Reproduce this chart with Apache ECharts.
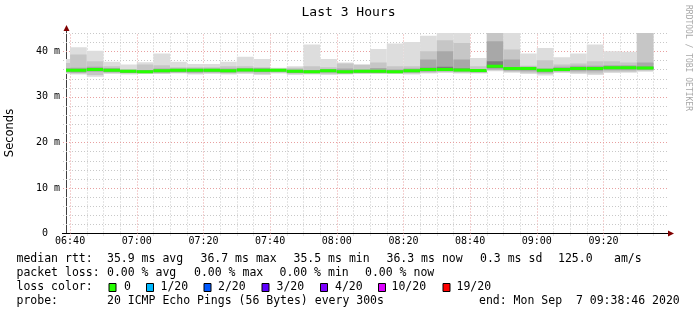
<!DOCTYPE html>
<html><head><meta charset="utf-8">
<script src="https://cdn.jsdelivr.net/npm/echarts@6/dist/echarts.min.js"></script>
<style>html,body{margin:0;padding:0;background:#fff}#c{width:697px;height:315px}</style>
</head><body><div id="c"></div>
<script>
// ---- data (5-minute intervals, each bar ends at barEnd) ----
const startTime = "06:38:46";
const endTime = "09:38:46";
const barEnd = ["06:40","06:45","06:50","06:55","07:00","07:05","07:10","07:15","07:20","07:25","07:30","07:35",
  "07:40","07:45","07:50","07:55","08:00","08:05","08:10","08:15","08:20","08:25","08:30","08:35",
  "08:40","08:45","08:50","08:55","09:00","09:05","09:10","09:15","09:20","09:25","09:30","09:35"];
const pingMin = [35.0,34.9,34.4,35.0,34.9,35.0,35.0,35.1,34.9,35.0,34.9,35.0,34.8,35.1,34.8,34.9,34.8,34.9,35.0,35.0,35.0,34.9,35.1,35.3,35.1,35.1,35.6,35.3,35.0,34.7,35.3,35.0,34.8,35.2,35.3,35.5];
const band2Lo = [35.2,35.1,34.8,35.2,35.1,35.1,35.1,35.2,35.1,35.2,35.1,35.2,35.0,35.3,35.0,35.0,35.0,35.0,35.1,35.1,35.1,35.1,35.3,35.4,35.3,35.2,35.8,35.5,35.3,35.0,35.4,35.3,35.1,35.5,35.5,35.7];
const band3Lo = [35.4,35.3,35.5,35.4,35.2,35.2,35.3,35.4,35.3,35.4,35.3,35.5,35.4,35.5,35.2,35.2,35.3,35.1,35.2,35.2,35.2,35.3,35.5,35.6,35.5,35.4,36.0,35.7,35.6,35.3,35.6,35.6,35.6,35.8,35.8,35.9];
const band4Lo = [35.6,35.6,35.8,35.6,35.4,35.3,35.5,35.6,35.6,35.6,35.5,35.7,35.6,35.7,35.4,35.3,35.5,35.3,35.4,35.4,35.3,35.5,35.8,35.8,35.7,35.6,36.3,36.0,36.0,35.6,35.8,36.0,36.0,36.2,36.2,36.1];
const medianRtt = [35.8,35.8,36.0,35.8,35.6,35.5,35.7,35.8,35.8,35.8,35.7,35.9,35.8,35.85,35.6,35.5,35.7,35.5,35.6,35.6,35.5,35.7,36.0,36.0,35.9,35.75,36.7,36.2,36.2,35.8,36.0,36.2,36.2,36.4,36.4,36.3];
const band4Hi = [36.0,36.0,36.2,36.0,35.8,35.7,35.9,36.0,36.0,36.0,35.9,36.1,36.0,36.0,35.8,35.7,35.9,35.7,35.8,35.8,35.7,35.9,36.4,36.6,36.2,35.9,37.8,36.5,36.4,36.0,36.3,36.4,36.4,36.6,36.6,36.6];
const band3Hi = [36.3,36.4,36.6,36.3,35.9,35.9,36.2,36.2,36.2,36.2,36.2,36.3,36.3,36.1,36.0,35.9,36.1,36.2,36.0,36.3,36.0,36.2,38.2,40.0,38.2,36.1,42.2,38.2,36.6,36.2,36.6,36.8,36.8,36.9,36.9,37.5];
const band2Hi = [37.4,39.3,37.8,36.7,36.1,37.1,36.9,36.5,36.5,36.5,36.7,36.7,36.5,36.2,36.4,36.7,36.5,37.3,37.1,37.5,36.7,36.7,40.0,42.4,41.8,36.7,45.0,40.4,36.8,38.0,37.1,37.3,37.8,37.8,37.5,45.0];
const pingMax = [38.3,40.9,40.1,37.7,37.1,37.6,39.5,37.7,37.2,37.2,37.7,38.8,38.3,36.4,36.7,41.5,38.3,37.5,36.8,40.5,41.7,42.0,43.4,45.0,45.0,38.5,45.0,45.0,39.5,40.7,38.7,39.5,41.5,40.0,39.9,45.0];
const stepMinutes = 5;
const xTickLabels = ["06:40","07:00","07:20","07:40","08:00","08:20","08:40","09:00","09:20"];
const yTickValues = [0,10,20,30,40];
const yTickLabels = ["0  ","10 m","20 m","30 m","40 m"];
const yMax = 44;
const statsRtt = ["35.9 ms avg","36.7 ms max","35.5 ms min","36.3 ms now","0.3 ms sd","125.0","am/s"];
const statsLoss = ["0.00 % avg","0.00 % max","0.00 % min","0.00 % now"];
const lossLabels = ["0","1/20","2/20","3/20","4/20","10/20","19/20"];
const lossColors = ["#26ff00","#00b8ff","#0059ff","#5e00ff","#7e00ff","#dd00ff","#ff0000"];
const probeText = "20 ICMP Echo Pings (56 Bytes) every 300s";
const endText = "end: Mon Sep  7 09:38:46 2020";

// ---- helpers ----
function toMin(s){const p=s.split(':').map(Number);return p[0]*60+p[1]+(p[2]||0)/60;}
const xMin = toMin(startTime), xMax = toMin(endTime);
const xTickValues = xTickLabels.map(toMin);
const smokeData = barEnd.map((e,i)=>[toMin(e)-stepMinutes,toMin(e),pingMin[i],band2Lo[i],band3Lo[i],band4Lo[i],medianRtt[i],band4Hi[i],band3Hi[i],band2Hi[i],pingMax[i]]);

const MONO = "'DejaVu Sans Mono', monospace";
const chart = echarts.init(document.getElementById('c'), null, {renderer:'canvas'});

function gridRender(params, api){
  const ch = [];
  const y0 = api.coord([xMin,0])[1], y1 = api.coord([xMin,yMax])[1];
  const xl = api.coord([xMin,0])[0], xr = api.coord([xMax,0])[0];
  const majorX = new Set(xTickValues);
  for (let t = xTickValues[0]; t < xMax; t += stepMinutes){
    const x = Math.round(api.coord([t,0])[0]) + 0.5;
    const major = majorX.has(t);
    ch.push({type:'line', shape:{x1:x,y1:y0+(major?3:2),x2:x,y2:y1}, style:{stroke: major?'#e8a0a0':'#c8c8c8', lineWidth:1, lineDash:[1,2]}});
  }
  for (let v = 2; v <= yMax; v += 2){
    const y = Math.round(api.coord([xMin,v])[1]) + 0.5;
    const major = v % 10 === 0;
    ch.push({type:'line', shape:{x1:xl-3,y1:y,x2:xr+3,y2:y}, style:{stroke: major?'#e8a0a0':'#c8c8c8', lineWidth:1, lineDash:[1,2]}});
  }
  return {type:'group', children:ch};
}

function smokeRender(params, api){
  const t0 = api.value(0), t1 = api.value(1);
  const bands = [[2,10,'#dddddd'],[3,9,'#c6c6c6'],[4,8,'#a8a8a8'],[5,7,'#7c7c7c']];
  const ch = [];
  for (const b of bands){
    const p0 = api.coord([t0, api.value(b[1])]);
    const p1 = api.coord([t1, api.value(b[0])]);
    ch.push({type:'rect', shape:{x:p0[0], y:p0[1], width:p1[0]-p0[0], height:p1[1]-p0[1]}, style:{fill:b[2]}});
  }
  const m0 = api.coord([t0, api.value(6)]), m1 = api.coord([t1, api.value(6)]);
  ch.push({type:'rect', shape:{x:m0[0], y:m0[1]-1.5, width:m1[0]-m0[0], height:3}, style:{fill:lossColors[0]}});
  return {type:'group', children:ch};
}

const graphics = [];
graphics.push({type:'text', left:'center', top:6, style:{text:'Last 3 Hours', font:"13px "+MONO, fill:'#000'}});
graphics.push({type:'text', x:10, y:133, rotation:Math.PI/2, style:{text:'Seconds', font:"11.5px 'DejaVu Sans', sans-serif", fill:'#000', align:'center', verticalAlign:'middle'}});
graphics.push({type:'text', x:688, y:5, rotation:-Math.PI/2, style:{text:'RRDTOOL / TOBI OETIKER', font:"8px "+MONO, fill:'#a8a8a8', align:'left', verticalAlign:'middle'}});
// axis arrows
graphics.push({type:'line', shape:{x1:66.5,y1:34,x2:66.5,y2:29}, style:{stroke:'#404040',lineWidth:1}});
graphics.push({type:'polygon', shape:{points:[[63.5,31],[69.5,31],[66.5,25]]}, style:{fill:'#800000'}});
graphics.push({type:'line', shape:{x1:62,y1:233.5,x2:670,y2:233.5}, style:{stroke:'#000',lineWidth:1}});
graphics.push({type:'polygon', shape:{points:[[668,230.5],[668,236.5],[674,233.5]]}, style:{fill:'#800000'}});
// legend
const LF = "11.5px "+MONO;
function txt(s,x,y){graphics.push({type:'text', x:x, y:y, style:{text:s, font:LF, fill:'#000', verticalAlign:'middle'}});}
txt('median rtt:',16.5,259.5);
const rttX=[107,200.5,293.5,386.5,480,558,614];
statsRtt.forEach((s,i)=>txt(s,rttX[i],259.5));
txt('packet loss:',16.5,273.5);
const lossX=[107,194,279.5,365];
statsLoss.forEach((s,i)=>txt(s,lossX[i],273.5));
txt('loss color:',16.5,287.5);
const boxX=[108.5,146,203.5,261.5,320,378,442.5];
const lblX=[124,160.5,218,276.5,335,391.5,456.5];
lossLabels.forEach((s,i)=>{
  graphics.push({type:'rect', shape:{x:boxX[i]+0.5,y:283.5,width:7,height:8}, style:{fill:lossColors[i],stroke:'#000',lineWidth:1}});
  txt(s,lblX[i],287.5);
});
txt('probe:',16.5,301.5);
txt(probeText,107,301.5);
txt(endText,479,301.5);

chart.setOption({
  animation:false,
  backgroundColor:'#fff',
  grid:{left:66, right:31, top:33, bottom:81.5, containLabel:false},
  xAxis:{type:'value', min:xMin, max:xMax,
    axisLine:{show:true, lineStyle:{color:'#000', width:1}},
    axisTick:{show:false}, splitLine:{show:false},
    axisLabel:{customValues:xTickValues, formatter:(v)=>xTickLabels[xTickValues.indexOf(v)]||'', fontFamily:MONO, fontSize:10, color:'#000', margin:3}},
  yAxis:{type:'value', min:0, max:yMax,
    axisLine:{show:true, lineStyle:{color:'#404040', width:1}},
    axisTick:{show:false}, splitLine:{show:false},
    axisLabel:{customValues:yTickValues, formatter:(v)=>yTickLabels[yTickValues.indexOf(v)], fontFamily:MONO, fontSize:10, color:'#000', margin:6}},
  series:[
    {type:'custom', name:'grid', data:[[xMin,0]], renderItem:gridRender, silent:true, z:1},
    {type:'custom', name:'smoke', data:smokeData, encode:{x:[0,1], y:[2,10]}, renderItem:smokeRender, clip:true, silent:true, z:2}
  ],
  graphic:graphics
});
</script></body></html>
